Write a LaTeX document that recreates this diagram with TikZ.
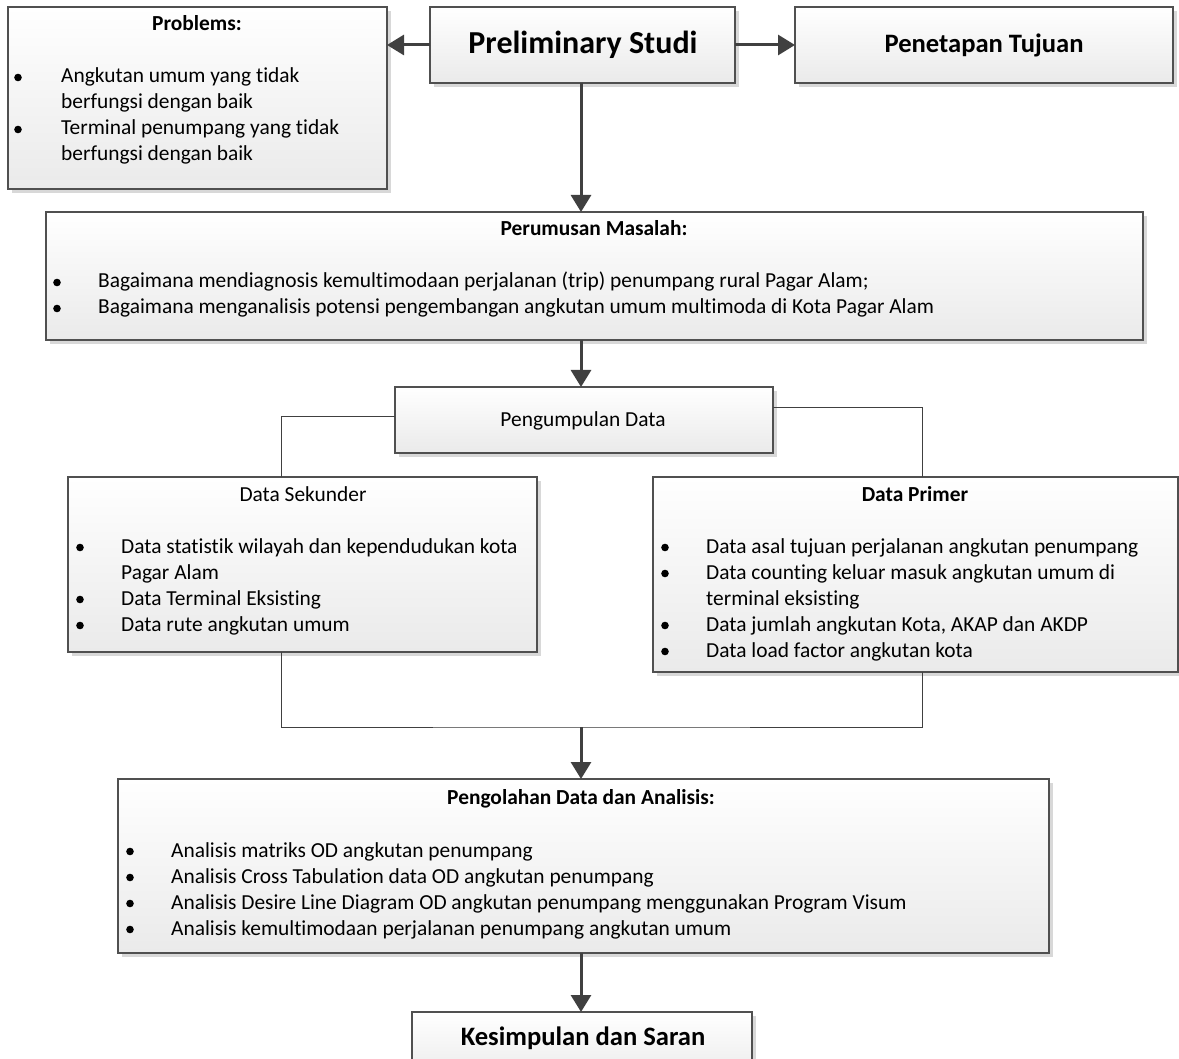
\documentclass[tikz,border=0pt]{standalone}
\usepackage{fontspec}
\setmainfont{Carlito}[RawFeature={-liga;-clig;-calt}]
\usetikzlibrary{arrows.meta,shadows}
\definecolor{edge}{HTML}{505050}
\definecolor{linec}{HTML}{404040}
\definecolor{boxbot}{HTML}{EAEAEA}
\definecolor{shad}{HTML}{D8D8D8}
\tikzset{
  box/.style={draw=edge, line width=1.3pt, inner sep=0pt, outer sep=0pt, anchor=north west,
    top color=white, bottom color=boxbot,
    drop shadow={shadow xshift=4pt, shadow yshift=-4pt, fill=shad, opacity=1}},
  txt/.style={font=\fontsize{21.4}{26}\selectfont, inner sep=0pt, anchor=base west},
  ttl/.style={font=\fontsize{21.4}{26}\selectfont\bfseries, inner sep=0pt, anchor=base},
  ttlr/.style={font=\fontsize{21.4}{26}\selectfont, inner sep=0pt, anchor=base},
  big/.style={font=\fontsize{26.6}{32}\selectfont\bfseries, inner sep=0pt, anchor=base},
  arr/.style={draw=linec, line width=3pt, -{Triangle[width=20pt,length=17pt]}},
  conn/.style={draw=linec, line width=1pt},
  connshadow/.style={draw=shad, line width=1pt, xshift=3pt, yshift=-3pt},
  bul/.style={fill=black},
}
\begin{document}
\begin{tikzpicture}[x=1pt,y=-1pt]
\useasboundingbox (0,0) rectangle (1179,1059);
\clip (0,0) rectangle (1179,1059);

% boxes
\node[box, minimum width=379pt, minimum height=182pt] (prob) at (8,7) {};
\node[box, minimum width=305pt, minimum height=76pt] (prel) at (430,7) {};
\node[box, minimum width=378pt, minimum height=76pt] (pen) at (795,7) {};
\node[box, minimum width=1097pt, minimum height=128pt] (rum) at (46,212) {};
\node[box, minimum width=378pt, minimum height=66pt] (kum) at (395,387) {};
\node[box, minimum width=469pt, minimum height=175pt] (sek) at (68,477) {};
\node[box, minimum width=525pt, minimum height=195pt] (pri) at (653,477) {};
\node[box, minimum width=931pt, minimum height=174pt] (olah) at (118,779) {};
\node[box, minimum width=340pt, minimum height=70pt] (kes) at (412,1012) {};

% helper coordinates
\coordinate (cx) at (581,0);
\coordinate (lx) at (281,0);
\coordinate (rx) at (922,0);
\coordinate (jn) at (581,727);

% connectors
\draw[arr] (prel.west) -- (prel.west -| prob.east);
\draw[arr] (prel.east) -- (prel.east -| pen.west);
\draw[arr] (cx |- prel.south) -- (cx |- rum.north);
\draw[arr] (cx |- rum.south) -- (cx |- kum.north);

\draw[connshadow] ([yshift=3pt]kum.west) -| (lx |- sek.north);
\draw[connshadow] ([yshift=12pt]kum.east) -| (rx |- pri.north);
\draw[connshadow] (lx |- sek.south) |- (jn) -| (rx |- pri.south);
\draw[conn] ([yshift=3pt]kum.west) -| (lx |- sek.north);
\draw[conn] ([yshift=12pt]kum.east) -| (rx |- pri.north);
\draw[conn] (lx |- sek.south) |- (jn) -| (rx |- pri.south);
\draw[arr] (jn) -- (jn |- olah.north);
\draw[arr] (cx |- olah.south) -- (cx |- kes.north);

% texts: Preliminary, Penetapan, Kesimpulan
\node[font=\fontsize{32}{38}\selectfont\bfseries, inner sep=0pt, anchor=base] (tprel) at (583,54) {Preliminary Studi};
\node[big] (tpen) at (984,53) {Penetapan Tujuan};
\node[big] (tkes) at (583,1045) {Kesimpulan dan Saran};

% Problems
\node[ttl] (tprob) at (197,31) {Problems:};
\node[txt] (p1) at (61,83) {Angkutan umum yang tidak};
\node[txt] (p2) at (61,109) {berfungsi dengan baik};
\node[txt] (p3) at (61,135) {Terminal penumpang yang tidak};
\node[txt] (p4) at (61,161) {berfungsi dengan baik};
\fill[bul] (18,77.5) circle (3.8);
\fill[bul] (18,129.5) circle (3.8);

% Perumusan Masalah
\node[ttl] (trum) at (594,236) {Perumusan Masalah:};
\node[txt] (r1) at (98,288) {Bagaimana mendiagnosis kemultimodaan perjalanan (trip) penumpang rural Pagar Alam;};
\node[txt] (r2) at (98,314) {Bagaimana menganalisis potensi pengembangan angkutan umum multimoda di Kota Pagar Alam};
\fill[bul] (57,282.5) circle (3.8);
\fill[bul] (57,308.5) circle (3.8);

% Pengumpulan Data
\node[ttlr] (tkum) at (583,427) {Pengumpulan Data};

% Data Sekunder
\node[ttlr] (tsek) at (303,501) {Data Sekunder};
\node[txt] (s1) at (121,553) {Data statistik wilayah dan kependudukan kota};
\node[txt] (s2) at (121,579) {Pagar Alam};
\node[txt] (s3) at (121,605) {Data Terminal Eksisting};
\node[txt] (s4) at (121,631) {Data rute angkutan umum};
\fill[bul] (80,547.5) circle (3.8);
\fill[bul] (80,599.5) circle (3.8);
\fill[bul] (80,625.5) circle (3.8);

% Data Primer
\node[ttl] (tpri) at (915,501) {Data Primer};
\node[txt] (d1) at (706,553) {Data asal tujuan perjalanan angkutan penumpang};
\node[txt] (d2) at (706,579) {Data counting keluar masuk angkutan umum di};
\node[txt] (d3) at (706,605) {terminal eksisting};
\node[txt] (d4) at (706,631) {Data jumlah angkutan Kota, AKAP dan AKDP};
\node[txt] (d5) at (706,657) {Data load factor angkutan kota};
\fill[bul] (665,547.5) circle (3.8);
\fill[bul] (665,573.5) circle (3.8);
\fill[bul] (665,625.5) circle (3.8);
\fill[bul] (665,651.5) circle (3.8);

% Pengolahan Data dan Analisis
\node[ttl] (tolah) at (581,804) {Pengolahan Data dan Analisis:};
\node[txt] (o1) at (171,857) {Analisis matriks OD angkutan penumpang};
\node[txt] (o2) at (171,883) {Analisis Cross Tabulation data OD angkutan penumpang};
\node[txt] (o3) at (171,909) {Analisis Desire Line Diagram OD angkutan penumpang menggunakan Program Visum};
\node[txt] (o4) at (171,935) {Analisis kemultimodaan perjalanan penumpang angkutan umum};
\fill[bul] (130,851.5) circle (3.8);
\fill[bul] (130,877.5) circle (3.8);
\fill[bul] (130,903.5) circle (3.8);
\fill[bul] (130,929.5) circle (3.8);
\end{tikzpicture}
\end{document}
